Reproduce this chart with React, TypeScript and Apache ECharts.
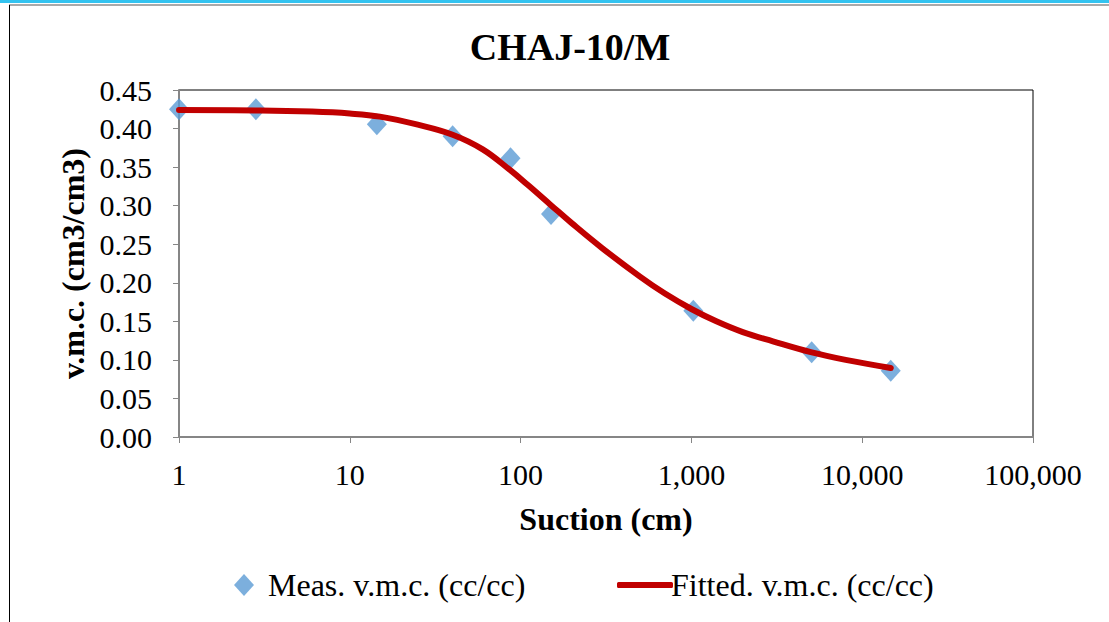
import React, { useEffect, useRef } from "react";
import * as echarts from "echarts";

const titleText = "CHAJ-10/M";
const xAxisName = "Suction (cm)";
const yAxisName = "v.m.c. (cm3/cm3)";
const measName = "Meas. v.m.c. (cc/cc)";
const fitName = "Fitted. v.m.c. (cc/cc)";

const measSuction = [1, 2.82, 14.4, 40.0, 87.3, 150.7, 1026, 5060, 14690];
const measVmc = [0.425, 0.425, 0.4055, 0.39, 0.3614, 0.2892, 0.1638, 0.1098, 0.086];

const fitSuction = [1, 3, 6, 10, 15, 25, 40, 60, 87, 110, 150, 200, 300, 500, 700, 1000, 1400, 2000, 3000, 5000, 8000, 14700];
const fitVmc = [0.424, 0.4235, 0.422, 0.4195, 0.4155, 0.405, 0.392, 0.373, 0.346, 0.327, 0.301, 0.277, 0.245, 0.208, 0.186, 0.166, 0.15, 0.136, 0.124, 0.11, 0.1, 0.0895];

const FONT = '"Liberation Serif", "Times New Roman", Times, serif';

export default function App() {
  const ref = useRef<HTMLDivElement>(null);
  useEffect(() => {
    if (!ref.current) return;
    const chart = echarts.init(ref.current, undefined, { renderer: "svg" });
    const fmtX = (v: number) => Math.round(v).toLocaleString("en-US");
    chart.setOption({
      animation: false,
      backgroundColor: "#fff",
      textStyle: { fontFamily: FONT },
      title: {
        text: titleText,
        left: 565,
        textAlign: "center",
        top: 23,
        textStyle: { fontFamily: FONT, fontSize: 38, fontWeight: "bold", color: "#000" },
      },
      graphic: [
        { type: "rect", shape: { x: 0, y: 0, width: 1109, height: 3 }, style: { fill: "#33c3f0" }, silent: true },
        { type: "line", shape: { x1: 9, y1: 5, x2: 1109, y2: 5 }, style: { stroke: "#555", lineWidth: 1 }, silent: true },
        { type: "line", shape: { x1: 9.5, y1: 5, x2: 9.5, y2: 622 }, style: { stroke: "#000", lineWidth: 1 }, silent: true },
      ],
      grid: {
        left: 179,
        right: 76,
        top: 90,
        bottom: 185,
        show: true,
        borderColor: "#000",
        borderWidth: 1,
        backgroundColor: "transparent",
      },
      legend: [
        {
          data: [{ name: measName, icon: "diamond" }],
          left: 229,
          top: 564,
          itemWidth: 20,
          itemHeight: 22,
          textStyle: { fontFamily: FONT, fontSize: 32, color: "#000", padding: [0, 0, 0, 9] },
        },
        {
          data: [{ name: fitName, icon: "roundRect" }],
          left: 612,
          top: 564,
          itemWidth: 56,
          itemHeight: 6,
          textStyle: { fontFamily: FONT, fontSize: 32, color: "#000", padding: [0, 0, 0, -7] },
        },
      ],
      xAxis: {
        type: "log",
        logBase: 10,
        min: 1,
        max: 100000,
        name: xAxisName,
        nameLocation: "middle",
        nameGap: 66,
        nameTextStyle: { fontFamily: FONT, fontSize: 32, fontWeight: "bold", color: "#000" },
        axisLine: { show: true, lineStyle: { color: "#868686", width: 2 } },
        axisTick: { show: true, length: 6, lineStyle: { color: "#868686", width: 1 } },
        minorTick: { show: false },
        splitLine: { show: false },
        axisLabel: {
          margin: 22,
          fontFamily: FONT,
          fontSize: 30,
          color: "#000",
          formatter: fmtX,
        },
      },
      yAxis: {
        type: "value",
        min: 0,
        max: 0.45,
        interval: 0.05,
        name: yAxisName,
        nameLocation: "middle",
        nameGap: 85,
        nameRotate: 90,
        nameTextStyle: { fontFamily: FONT, fontSize: 32, fontWeight: "bold", color: "#000" },
        axisLine: { show: true, lineStyle: { color: "#868686", width: 2 } },
        axisTick: { show: true, length: 6, lineStyle: { color: "#868686", width: 1 } },
        splitLine: { show: false },
        axisLabel: {
          margin: 27,
          fontFamily: FONT,
          fontSize: 30,
          color: "#000",
          formatter: (v: number) => v.toFixed(2),
        },
      },
      series: [
        {
          name: measName,
          type: "scatter",
          symbol: "diamond",
          symbolSize: [20, 22],
          itemStyle: { color: "#5B9BD5" },
          data: measSuction.map((s, i) => [s, measVmc[i]]),
          z: 2,
        },
        {
          name: fitName,
          type: "line",
          smooth: 0.4,
          showSymbol: false,
          symbol: "none",
          itemStyle: { color: "#C00000" },
          lineStyle: { color: "#C00000", width: 6, cap: "round", join: "round" },
          data: fitSuction.map((s, i) => [s, fitVmc[i]]),
          z: 3,
        },
      ],
    });
    return () => chart.dispose();
  }, []);
  return (
    <div
      ref={ref}
      style={{ position: "absolute", left: 0, top: 0, width: 1109, height: 622 }}
    />
  );
}
